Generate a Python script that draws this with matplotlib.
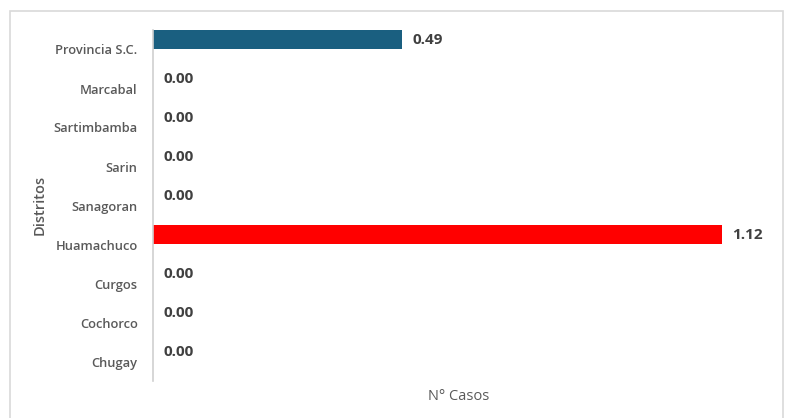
import matplotlib
matplotlib.use("Agg")
import matplotlib.pyplot as plt
from matplotlib.patches import Rectangle

distritos = ["Provincia S.C.", "Marcabal", "Sartimbamba", "Sarin", "Sanagoran",
             "Huamachuco", "Curgos", "Cochorco", "Chugay"]
casos = [0.49, 0.00, 0.00, 0.00, 0.00, 1.12, 0.00, 0.00, 0.00]
colores = ["#1a5f80", "#1a5f80", "#1a5f80", "#1a5f80", "#1a5f80",
           "#ff0000", "#1a5f80", "#1a5f80", "#1a5f80"]

W, H = 787, 418
fig = plt.figure(figsize=(W / 100, H / 100), dpi=100)
fig.patch.set_facecolor("white")

# outer chart frame
fig.patches.append(Rectangle((10 / W, -0.02), (783 - 10) / W, 1.02 - 11 / H,
                             transform=fig.transFigure, fill=False,
                             edgecolor="#d9d9d9", linewidth=1.2))

left, right, top, bottom = 153, 763, 30, 381
ax = fig.add_axes([left / W, 1 - bottom / H, (right - left) / W, (bottom - top) / H])

ypos = list(range(len(distritos)))
ax.barh([y - 0.25 for y in ypos], casos, height=0.49, color=colores,
        edgecolor="none")
ax.set_xlim(0, 1.2)
ax.set_ylim(len(distritos) - 0.5, -0.5)

for y, v in zip(ypos, casos):
    ax.text(v + 0.02, y - 0.25, f"{v:.2f}", va="center", ha="left",
            fontsize=11, fontweight="bold", color="#404040", family="Open Sans")

ax.set_yticks(ypos)
ax.set_yticklabels(distritos, fontsize=9.3, fontweight="semibold",
                   color="#595959", family="Open Sans")
ax.tick_params(axis="y", length=0, pad=11)
ax.set_xticks([])

for s in ["top", "right", "bottom"]:
    ax.spines[s].set_visible(False)
ax.spines["left"].set_color("#d0d0d0")
ax.spines["left"].set_linewidth(1.2)

fig.text(459 / W, 1 - 396 / H, "N° Casos", ha="center", va="center",
         fontsize=10.5, color="#595959", family="Open Sans")
fig.text(40 / W, 1 - 205 / H, "Distritos", ha="center", va="center",
         rotation=90, fontsize=10.5, fontweight="semibold", color="#595959",
         family="Open Sans")

fig.savefig("out.png", dpi=100)
